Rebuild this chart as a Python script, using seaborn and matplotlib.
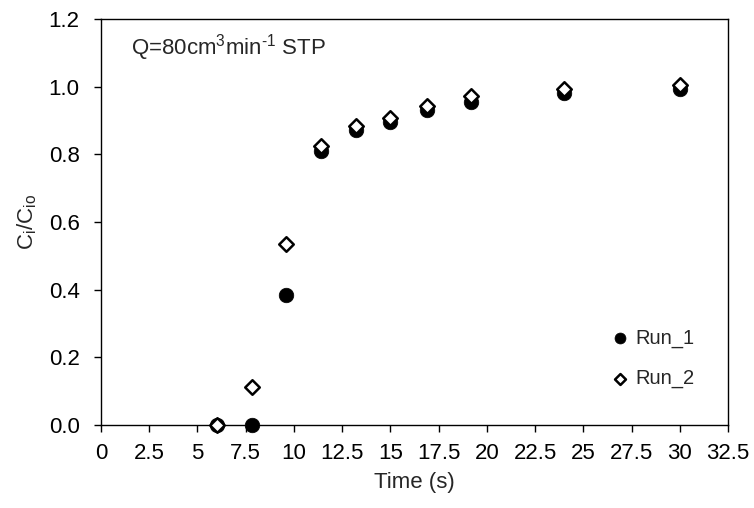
import matplotlib
matplotlib.use("Agg")
import matplotlib.pyplot as plt
import seaborn as sns
import pandas as pd

# Breakthrough data: normalised outlet concentration vs time
time_s = [6.0, 7.8, 9.6, 11.4, 13.2, 15.0, 16.9, 19.2, 24.0, 30.0]
run_1 = [0.0, 0.0, 0.385, 0.81, 0.873, 0.897, 0.93, 0.955, 0.98, 0.992]
run_2 = [0.0, 0.112, 0.535, 0.826, 0.885, 0.908, 0.942, 0.972, 0.992, 1.004]

x_ticks = [0, 2.5, 5, 7.5, 10, 12.5, 15, 17.5, 20, 22.5, 25, 27.5, 30, 32.5]
x_tick_labels = ["0", "2.5", "5", "7.5", "10", "12.5", "15", "17.5", "20",
                 "22.5", "25", "27.5", "30", "32.5"]
y_ticks = [0.0, 0.2, 0.4, 0.6, 0.8, 1.0, 1.2]

sns.set_style("ticks")
plt.rcParams["font.family"] = ["Liberation Sans", "DejaVu Sans"]
plt.rcParams["mathtext.fontset"] = "custom"
plt.rcParams["mathtext.rm"] = "Liberation Sans"
plt.rcParams["mathtext.it"] = "Liberation Sans"

df1 = pd.DataFrame({"t": time_s, "c": run_1})
df2 = pd.DataFrame({"t": time_s, "c": run_2})

fig = plt.figure(figsize=(7.54, 5.08), dpi=100)
ax = fig.add_axes([0.134, 0.1634, 0.8315, 0.7992])

sns.scatterplot(data=df1, x="t", y="c", ax=ax, marker="o", s=110,
                color="black", edgecolor="black", linewidth=0.5,
                label="Run_1", clip_on=False, zorder=3)
sns.scatterplot(data=df2, x="t", y="c", ax=ax, marker="D", s=55,
                facecolor="white", edgecolor="black", linewidth=1.8,
                label="Run_2", clip_on=False, zorder=4)

ax.set_xlim(0, 32.5)
ax.set_ylim(0, 1.2)
ax.set_xticks(x_ticks)
ax.set_xticklabels(x_tick_labels)
ax.set_yticks(y_ticks)
ax.set_yticklabels([f"{v:.1f}" for v in y_ticks])

for side in ["top", "right", "left", "bottom"]:
    ax.spines[side].set_visible(True)
    ax.spines[side].set_color("black")
    ax.spines[side].set_linewidth(1.0)

ax.tick_params(axis="both", direction="out", length=5, width=1.0,
               labelsize=16, colors="black")
ax.tick_params(axis="x", pad=8.3)
ax.tick_params(axis="y", pad=10.5)

ax.set_xlabel("Time (s)", fontsize=16, labelpad=5.5)
ax.set_ylabel(r"C$_\mathregular{i}$/C$_\mathregular{io}$", fontsize=16,
              labelpad=7)

ax.text(0.048, 0.93, r"Q=80cm$^\mathregular{3}$min$^\text{-1}$ STP",
        transform=ax.transAxes, fontsize=16, va="center", ha="left")

leg = ax.legend(loc="upper left", bbox_to_anchor=(0.795, 0.257), frameon=False,
                fontsize=14.5, markerscale=0.75, handletextpad=0.2,
                labelspacing=1.05, handlelength=1.2, borderaxespad=0)

fig.savefig("out.png", dpi=100, facecolor="white")
